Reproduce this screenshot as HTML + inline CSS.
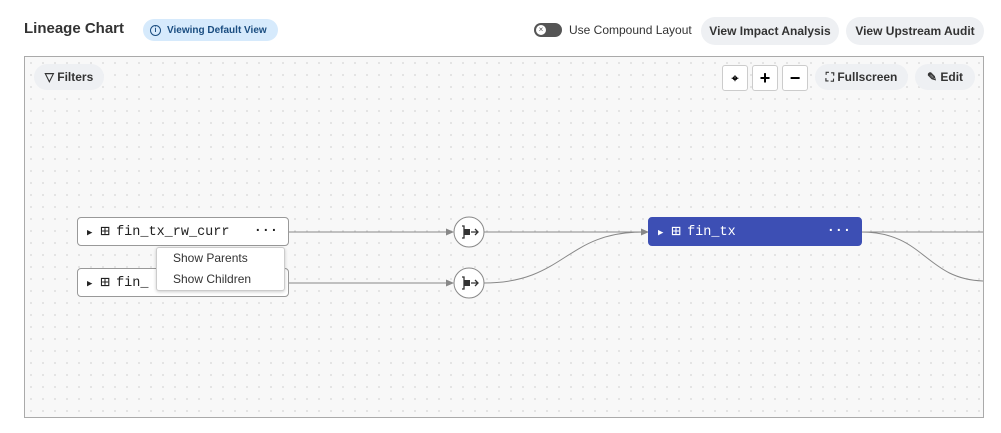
<!DOCTYPE html>
<html><head><meta charset="utf-8"><style>
body{margin:0;width:1001px;height:433px;background:#fff;font-family:"Liberation Sans",sans-serif;position:relative;overflow:hidden}
.abs{position:absolute}
.pill{position:absolute;background:#eef0f3;border-radius:14px;font-weight:bold;font-size:12px;color:#333;line-height:28px;text-align:center}
.canvas{position:absolute;left:24px;top:56px;width:958px;height:360px;border:1px solid #aaa;background-color:#f8f8f8;background-image:radial-gradient(#ddd 0.8px,transparent 1px);background-size:12px 12px;overflow:hidden}
.node{position:absolute;height:27px;border:1px solid #999;border-radius:4px;background:#fff;font-family:"Liberation Mono",monospace;font-size:13.5px;line-height:28px;color:#222}
.ic{display:inline-block;margin-left:8px;margin-right:6px;font-size:16px;vertical-align:-1px}
.sq{position:absolute;width:24px;height:24px;background:#fff;border:1px solid #ccc;border-radius:3px;text-align:center;line-height:24px;font-size:18px;font-weight:bold}
</style></head><body>
<div class="abs" style="left:24px;top:20px;font-size:15px;font-weight:bold;color:#333">Lineage Chart</div>
<div class="abs" style="left:143px;top:19px;width:135px;height:22px;border-radius:11px;background:#d6eafc;color:#1a4d80;font-size:10px;font-weight:bold;white-space:nowrap;display:flex;align-items:center"><span style="display:inline-block;box-sizing:border-box;width:11px;height:11px;border:1.3px solid #1a4d80;border-radius:50%;margin:0 6px 0 7px;font-size:7px;line-height:9px;text-align:center">i</span>Viewing Default View</div>
<div class="abs" style="left:534px;top:23px;width:28px;height:14px;border-radius:7px;background:#555"><div style="position:absolute;left:2px;top:2px;width:10px;height:10px;border-radius:50%;background:#fff;font-size:8px;line-height:10px;text-align:center;color:#555">×</div></div>
<div class="abs" style="left:569px;top:23px;font-size:12px;color:#333">Use Compound Layout</div>
<div class="pill" style="left:701px;top:17px;width:138px">View Impact Analysis</div>
<div class="pill" style="left:846px;top:17px;width:138px">View Upstream Audit</div>
<div class="canvas">
<svg class="abs" style="left:0;top:0" width="958" height="360">
<g fill="none" stroke="#888" stroke-width="1">
<path d="M264 175 H422"/><path d="M264 226 H422"/>
<path d="M459 175 H618"/><path d="M459 226 C540 226 540 175 618 175"/>
<path d="M836 175 H958"/><path d="M836 175 C900 175 900 222 958 224"/>
</g>
<g fill="#888"><path d="M429 175 l-8 -3.5 v7z"/><path d="M429 226 l-8 -3.5 v7z"/><path d="M624 175 l-8 -3.5 v7z"/></g>
<g fill="#fff" stroke="#888"><circle cx="444" cy="175" r="15"/><circle cx="444" cy="226" r="15"/></g>
<g stroke="#333" stroke-width="1.3" fill="none"><path d="M437 169 h2 v12 h-2 M446 175 h7 M450 172 l3 3 -3 3"/><path d="M437 220 h2 v12 h-2 M446 226 h7 M450 223 l3 3 -3 3"/></g>
<rect x="439" y="172" width="6" height="6" fill="#333"/><rect x="439" y="223" width="6" height="6" fill="#333"/>
</svg>
<div class="pill" style="left:9px;top:7px;width:70px;height:26px;line-height:26px">▽ Filters</div>
<div class="sq" style="left:697px;top:8px;font-size:12px">⌖</div>
<div class="sq" style="left:727px;top:8px">+</div>
<div class="sq" style="left:757px;top:8px">−</div>
<div class="pill" style="left:790px;top:7px;width:93px;height:26px;line-height:26px">⛶ Fullscreen</div>
<div class="pill" style="left:890px;top:7px;width:60px;height:26px;line-height:26px">✎ Edit</div>
<div class="node" style="left:52px;top:160px;width:210px"><span style="margin-left:9px;font-size:9px">▶</span><span class="ic">⊞</span>fin_tx_rw_curr<span style="position:absolute;right:10px;font-weight:bold">···</span></div>
<div class="node" style="left:52px;top:211px;width:210px"><span style="margin-left:9px;font-size:9px">▶</span><span class="ic">⊞</span>fin_</div>
<div class="node" style="left:623px;top:160px;width:212px;background:#3d4fb4;border-color:#3d4fb4;color:#fff"><span style="margin-left:9px;font-size:9px">▶</span><span class="ic">⊞</span>fin_tx<span style="position:absolute;right:10px;font-weight:bold">···</span></div>
<div class="abs" style="left:131px;top:190px;width:127px;height:42px;background:#fff;border:1px solid #ccc;border-radius:3px;box-shadow:0 1px 3px rgba(0,0,0,.2);font-size:12px;color:#333;line-height:21px"><div style="padding-left:16px">Show Parents</div><div style="padding-left:16px">Show Children</div></div>
</div>
</body></html>
